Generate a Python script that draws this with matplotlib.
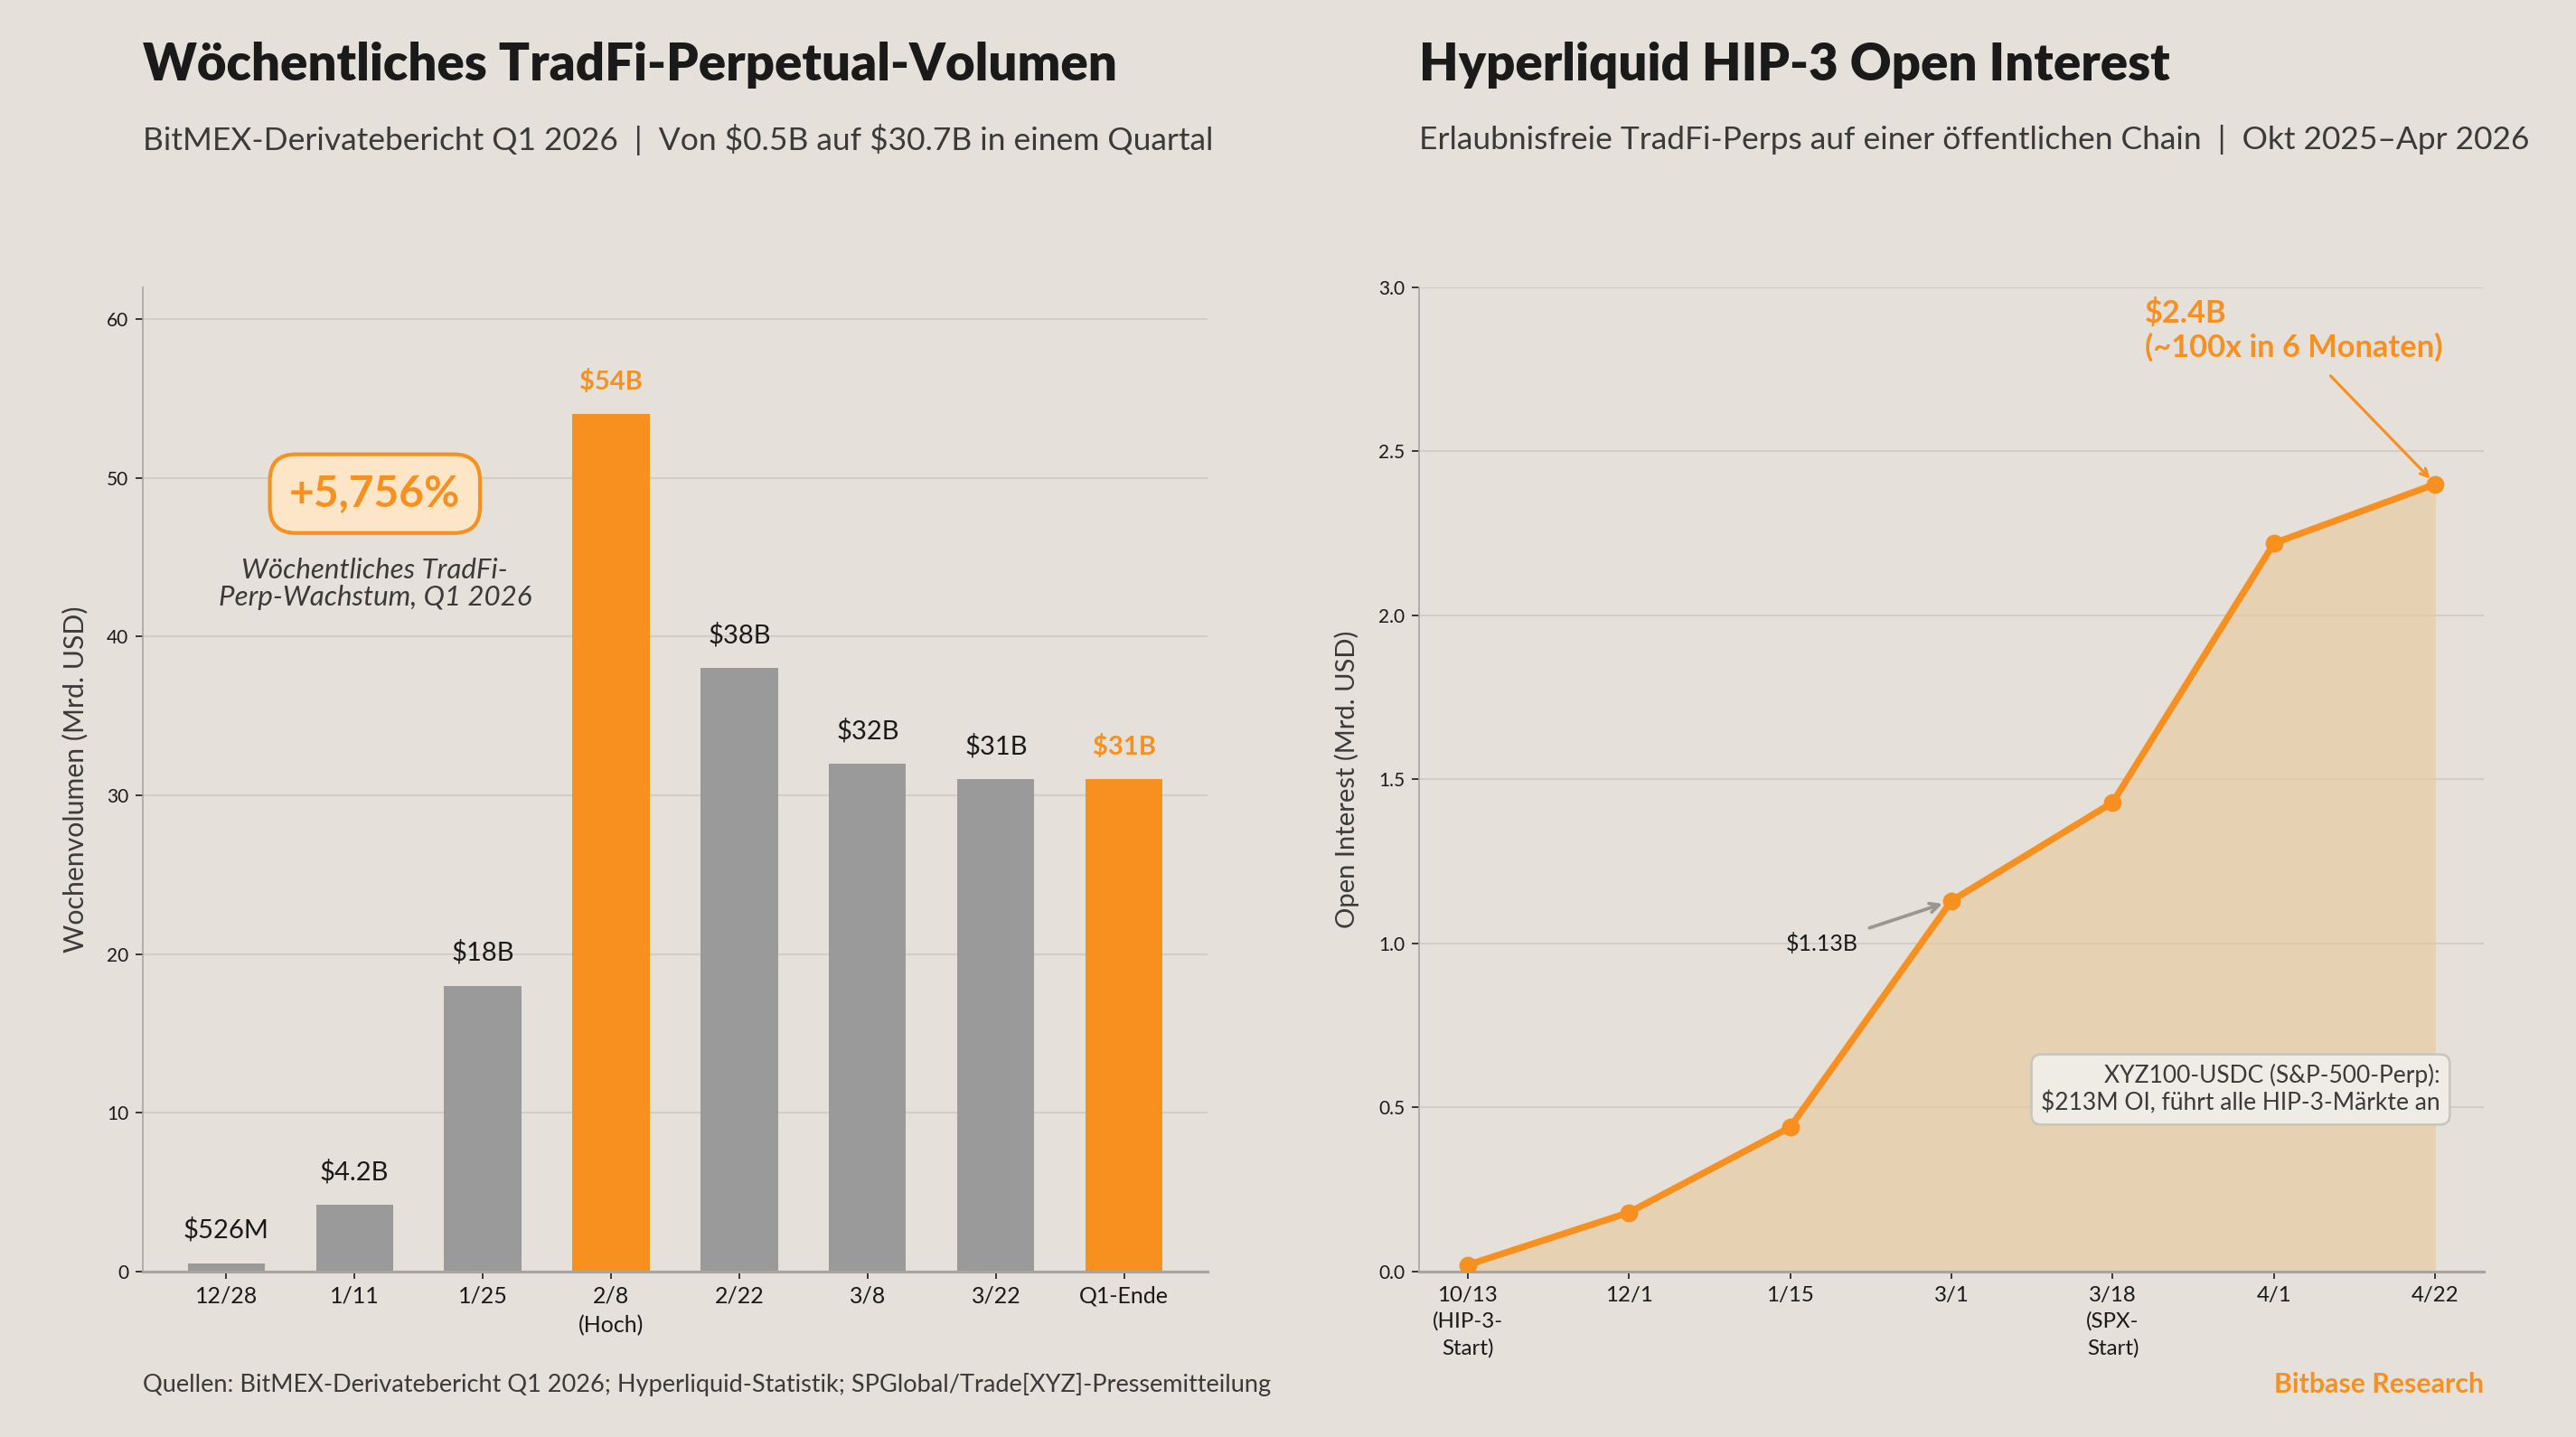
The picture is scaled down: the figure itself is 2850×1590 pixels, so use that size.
import numpy as np
import matplotlib.pyplot as plt

plt.rcParams['font.family'] = ['Lato', 'DejaVu Sans']
plt.rcParams['text.parse_math'] = False

# Daten: woechentliches TradFi-Perp-Volumen (Mrd. USD)
weeks = ['12/28', '1/11', '1/25', '2/8\n(Hoch)', '2/22', '3/8', '3/22', 'Q1-Ende']
volume = [0.526, 4.2, 18, 54, 38, 32, 31, 31]
vol_labels = ['$526M', '$4.2B', '$18B', '$54B', '$38B', '$32B', '$31B', '$31B']
highlight = [False, False, False, True, False, False, False, True]

# Daten: HIP-3 Open Interest (Mrd. USD)
oi_dates = ['10/13\n(HIP-3-\nStart)', '12/1', '1/15', '3/1', '3/18\n(SPX-\nStart)', '4/1', '4/22']
oi_values = [0.02, 0.18, 0.44, 1.13, 1.43, 2.22, 2.40]

BG = '#E5E0DA'
ORANGE = '#F7901E'
GRAY = '#9A9A9A'
DARK = '#1A1A1A'
TXT = '#3A3A3A'
GRID = '#D2CDC6'
SPINE = '#A8A4A0'

fig = plt.figure(figsize=(19, 10.6), dpi=150, facecolor=BG)
ax1 = fig.add_axes([0.0554, 0.1151, 0.4134, 0.685], facecolor=BG)
ax2 = fig.add_axes([0.5509, 0.1151, 0.4133, 0.685], facecolor=BG)

for ax in (ax1, ax2):
    for s in ['top', 'right']:
        ax.spines[s].set_visible(False)
    ax.spines['left'].set_color(SPINE)
    ax.spines['bottom'].set_color(SPINE)
    ax.spines['bottom'].set_linewidth(1.5)
    ax.grid(axis='y', color=GRID, linewidth=1)
    ax.set_axisbelow(True)
    ax.tick_params(axis='y', labelsize=10, colors=DARK, length=4, color=DARK)
    ax.tick_params(axis='x', labelsize=12, colors=DARK, length=4, color=DARK)

# --- linkes Diagramm ---
x = np.arange(len(weeks))
colors = [ORANGE if h else GRAY for h in highlight]
ax1.bar(x, volume, width=0.6, color=colors, zorder=2)
for xi, v, lab, h in zip(x, volume, vol_labels, highlight):
    ax1.text(xi, v + 1.3, lab, ha='center', va='bottom', fontsize=14,
             color=ORANGE if h else DARK, fontweight='bold' if h else 'normal')
ax1.set_xticks(x)
ax1.set_xticklabels(weeks, linespacing=1.5)
ax1.set_xlim(-0.65, 7.65)
ax1.set_ylim(0, 62)
ax1.set_yticks([0, 10, 20, 30, 40, 50, 60])
ax1.set_ylabel('Wochenvolumen (Mrd. USD)', fontsize=14.5, color=TXT, labelpad=10)

ax1.text(1.16, 49.0, '+5,756%', ha='center', va='center', fontsize=23, fontweight='bold',
         color=ORANGE,
         bbox=dict(boxstyle='round,pad=0.45,rounding_size=0.6', facecolor='#FDE6C8',
                   edgecolor=ORANGE, linewidth=2))
ax1.text(1.16, 43.3, 'Wöchentliches TradFi-\nPerp-Wachstum, Q1 2026', ha='center', va='center',
         fontsize=15, style='italic', color=TXT, linespacing=1.1)

# --- rechtes Diagramm ---
xo = np.arange(len(oi_dates))
ax2.fill_between(xo, oi_values, 0, color='#E8C898', alpha=0.6, zorder=1, linewidth=0)
ax2.plot(xo, oi_values, color=ORANGE, linewidth=3.5, marker='o', markersize=8.5, zorder=3)
ax2.set_xticks(xo)
ax2.set_xticklabels(oi_dates, fontsize=11.5, linespacing=1.45)
ax2.set_xlim(-0.3, 6.3)
ax2.set_ylim(0, 3.0)
ax2.set_yticks([0, 0.5, 1.0, 1.5, 2.0, 2.5, 3.0])
ax2.set_yticklabels(['0.0', '0.5', '1.0', '1.5', '2.0', '2.5', '3.0'])
ax2.set_ylabel('Open Interest (Mrd. USD)', fontsize=14, color=TXT, labelpad=10)

ax2.text(4.2, 2.87, '$2.4B\n(~100x in 6 Monaten)', ha='left', va='center', fontsize=16.5,
         fontweight='bold', color=ORANGE, linespacing=1.2)
ax2.annotate('', xy=(6, oi_values[6]), xytext=(5.35, 2.73),
             arrowprops=dict(arrowstyle='->', color=ORANGE, lw=1.5, shrinkA=0, shrinkB=4))
ax2.annotate('$1.13B', xy=(3, oi_values[3]), xytext=(2.2, 1.0),
             ha='center', va='center', fontsize=12, color=DARK,
             arrowprops=dict(arrowstyle='->', color='#9A9690', lw=1.8, shrinkA=4, shrinkB=5))
ax2.text(6.03, 0.555, 'XYZ100-USDC (S&P-500-Perp):\n$213M OI, führt alle HIP-3-Märkte an',
         ha='right', va='center', fontsize=12.7, color=TXT, multialignment='right',
         bbox=dict(boxstyle='round,pad=0.4', facecolor='#EFECE6', edgecolor='#C8C4BE',
                   linewidth=1.2), zorder=4)

# --- Titel ---
fig.text(0.0555, 0.9545, 'Wöchentliches TradFi-Perpetual-Volumen', fontsize=27,
         fontweight='heavy', color=DARK, va='center', ha='left')
fig.text(0.0555, 0.9028, 'BitMEX-Derivatebericht Q1 2026  |  Von $0.5B auf $30.7B in einem Quartal',
         fontsize=17, color=TXT, va='center', ha='left')
fig.text(0.551, 0.9545, 'Hyperliquid HIP-3 Open Interest', fontsize=27,
         fontweight='heavy', color=DARK, va='center', ha='left')
fig.text(0.551, 0.9028, 'Erlaubnisfreie TradFi-Perps auf einer öffentlichen Chain  |  Okt 2025–Apr 2026',
         fontsize=17, color=TXT, va='center', ha='left')

fig.text(0.0555, 0.0364, 'Quellen: BitMEX-Derivatebericht Q1 2026; Hyperliquid-Statistik; '
         'SPGlobal/Trade[XYZ]-Pressemitteilung', fontsize=13, color=TXT, va='center', ha='left')
fig.text(0.9642, 0.0364, 'Bitbase Research', fontsize=14.5, fontweight='bold', color=ORANGE,
         va='center', ha='right')

plt.savefig('out.png', dpi=150, facecolor=BG)
